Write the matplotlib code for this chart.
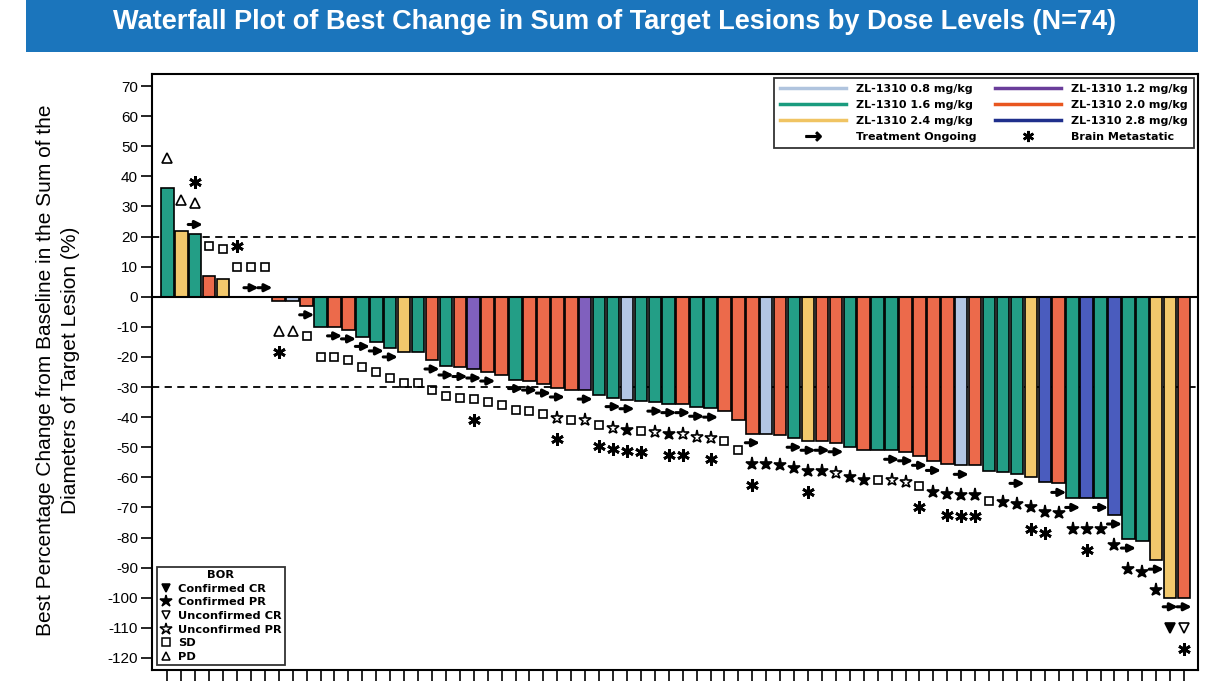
import matplotlib
matplotlib.use('Agg')
import matplotlib.pyplot as plt
from matplotlib.lines import Line2D
from matplotlib.patches import Rectangle
import numpy as np

plt.rcParams['axes.unicode_minus'] = False

# ---- data ----
values = [36, 22, 21, 7, 6, 0, 0, 0, -1.5, -1.5,
          -3, -10, -10, -11, -13.5, -15, -17, -18.5, -18.5, -21,
          -23, -23.5, -24, -25, -26, -27.5, -28, -29, -30.3, -31,
          -31, -32.5, -33.5, -34.2, -34.5, -35, -35.5, -35.5, -36.7, -37,
          -38, -41, -45.5, -45.5, -46, -47, -48, -48, -48.5, -50,
          -51, -51, -51, -51.5, -53, -54.7, -55.5, -56, -56, -58,
          -58.3, -59, -60, -61.5, -62, -67, -67, -67, -72.5, -80.5,
          -81.3, -87.5, -100, -100]
dose = ['1.6', '2.4', '1.6', '2.0', '2.4', '2.0', '2.0', '2.0', '2.0', '0.8',
        '2.0', '1.6', '2.0', '2.0', '1.6', '1.6', '1.6', '2.4', '1.6', '2.0',
        '1.6', '2.0', '1.2', '2.0', '2.0', '1.6', '2.0', '2.0', '2.0', '2.0',
        '1.2', '1.6', '1.6', '0.8', '1.6', '1.6', '1.6', '2.0', '1.6', '1.6',
        '2.0', '2.0', '2.0', '0.8', '2.0', '1.6', '2.4', '2.0', '2.0', '1.6',
        '2.0', '1.6', '1.6', '2.0', '2.0', '2.0', '2.0', '0.8', '2.0', '1.6',
        '1.6', '1.6', '2.4', '2.8', '2.0', '1.6', '2.8', '1.6', '2.8', '1.6',
        '1.6', '2.4', '2.4', '2.0']
bor = ['PD', 'PD', 'PD', 'SD', 'SD', 'SD', 'SD', 'SD', 'PD', 'PD',
       'SD', 'SD', 'SD', 'SD', 'SD', 'SD', 'SD', 'SD', 'SD', 'SD',
       'SD', 'SD', 'SD', 'SD', 'SD', 'SD', 'SD', 'SD', 'uPR', 'SD',
       'uPR', 'SD', 'uPR', 'PR', 'SD', 'uPR', 'PR', 'uPR', 'uPR', 'uPR',
       'SD', 'SD', 'PR', 'PR', 'PR', 'PR', 'PR', 'PR', 'uPR', 'PR',
       'PR', 'SD', 'uPR', 'uPR', 'SD', 'PR', 'PR', 'PR', 'PR', 'SD',
       'PR', 'PR', 'PR', 'PR', 'PR', 'PR', 'PR', 'PR', 'PR', 'PR',
       'PR', 'PR', 'CR', 'uCR']
ongoing = [0, 0, 1, 0, 0, 0, 1, 1, 0, 0,
           1, 0, 1, 1, 1, 1, 1, 0, 0, 1,
           1, 1, 1, 1, 0, 1, 1, 1, 1, 0,
           1, 0, 1, 1, 0, 1, 1, 1, 1, 1,
           0, 0, 1, 0, 0, 1, 1, 1, 1, 0,
           0, 0, 1, 1, 1, 1, 0, 1, 0, 0,
           0, 1, 0, 0, 1, 1, 0, 1, 1, 1,
           0, 1, 1, 1]
brain = [0, 0, 1, 0, 0, 1, 0, 0, 1, 0,
         0, 0, 0, 0, 0, 0, 0, 0, 0, 0,
         0, 0, 1, 0, 0, 0, 0, 0, 1, 0,
         0, 1, 1, 1, 1, 0, 1, 1, 0, 1,
         0, 0, 1, 0, 0, 0, 1, 0, 0, 0,
         0, 0, 0, 0, 1, 0, 1, 1, 1, 0,
         0, 0, 1, 1, 0, 0, 1, 0, 0, 0,
         0, 0, 0, 1]

dose_labels = ['0.8', '1.2', '1.6', '2.0', '2.4', '2.8']
bar_colors = {'0.8': '#B3C6E4', '1.2': '#8060BE', '1.6': '#239E86',
              '2.0': '#EC6A4B', '2.4': '#F2C86C', '2.8': '#4A5CBE'}
line_colors = {'0.8': '#B0C4DE', '1.2': '#6A3D9A', '1.6': '#1A9B7E',
               '2.0': '#E8561F', '2.4': '#F0C463', '2.8': '#1F2F8C'}
bor_style = {'CR': ('v', 'black'), 'PR': ('*', 'black'),
             'uCR': ('v', 'none'), 'uPR': ('*', 'none'),
             'SD': ('s', 'none'), 'PD': ('^', 'none')}
bor_names = [('CR', 'Confirmed CR'), ('PR', 'Confirmed PR'),
             ('uCR', 'Unconfirmed CR'), ('uPR', 'Unconfirmed PR'),
             ('SD', 'SD'), ('PD', 'PD')]
bor_size = {'v': 6.5, '^': 6.5, 's': 6.0, '*': 9.5}

fig = plt.figure(figsize=(12.16, 6.84), dpi=100)

# title band
fig.patches.append(Rectangle((26 / 1216, 1 - 52 / 684), (1198 - 26) / 1216, 52 / 684,
                             transform=fig.transFigure, facecolor='#1B75BC',
                             edgecolor='none', zorder=0))
fig.text(0.505, 1 - 22 / 684,
         'Waterfall Plot of Best Change in Sum of Target Lesions by Dose Levels (N=74)',
         ha='center', va='center', color='white', fontsize=19.5, fontweight='bold',
         family='Liberation Sans')

ax = fig.add_axes([152 / 1216, 14 / 684, (1198 - 152) / 1216, (670 - 74) / 684])
x = np.arange(len(values))
ax.bar(x, values, width=0.9, color=[bar_colors[d] for d in dose],
       edgecolor='black', linewidth=1.2, zorder=3)
ax.axhline(0, color='black', lw=1.5, zorder=4)
ax.axhline(20, color='black', lw=1.3, ls=(0, (4, 3)), zorder=2)
ax.axhline(-30, color='black', lw=1.3, ls=(0, (4, 3)), zorder=2)

for i, v in enumerate(values):
    s = 1 if v >= 0 else -1
    if ongoing[i]:
        ya = v + s * 3
        ax.annotate('', xy=(i + 0.55, ya), xytext=(i - 0.5, ya),
                    arrowprops=dict(arrowstyle='-|>', color='black', lw=2.2,
                                    mutation_scale=11, shrinkA=0, shrinkB=0),
                    zorder=5)
    m, fc = bor_style[bor[i]]
    ax.plot(i, v + s * 10, marker=m, ms=bor_size[m], mfc=fc, mec='black',
            mew=1.2, ls='none', zorder=5)
    if brain[i]:
        ax.plot(i, v + s * 17, marker=(6, 2, 0), ms=9, mec='black', mew=2.0,
                ls='none', zorder=5)

ax.set_xlim(-1.1, 74.0)
ax.set_ylim(-124, 74)
ax.set_xticks(x)
ax.set_xticklabels([])
ax.tick_params(axis='x', length=8, width=1.2, direction='out')
yt = np.arange(-120, 71, 10)
ax.set_yticks(yt)
ax.set_yticklabels([str(t) for t in yt], family='Liberation Sans', fontsize=11)
ax.tick_params(axis='y', length=8, width=1.2, direction='out', pad=2)
for sp in ax.spines.values():
    sp.set_linewidth(1.5)

fig.text(58 / 1216, 1 - 370 / 684,
         'Best Percentage Change from Baseline in the Sum of the\nDiameters of Target Lesion (%)',
         rotation=90, ha='center', va='center', multialignment='center',
         fontsize=15, family='Liberation Sans', linespacing=1.35)

# dose legend
handles = []
order = ['0.8', '1.6', '2.4', None, '1.2', '2.0', '2.8', None]
for k, d in enumerate(order):
    if d is not None:
        handles.append(Line2D([], [], color=line_colors[d], lw=2.5, label=f'ZL-1310 {d} mg/kg'))
    elif k == 3:
        handles.append(Line2D([], [], ls='none', marker=r'$\rightarrow$', ms=11,
                              color='black', label='Treatment Ongoing'))
    else:
        handles.append(Line2D([], [], ls='none', marker=(6, 2, 0), ms=8, mec='black',
                              mew=1.8, label='Brain Metastatic'))
leg1 = ax.legend(handles=handles, ncol=2, loc='upper right',
                 prop=dict(size=8, weight='bold'),
                 handlelength=6.0, frameon=True, fancybox=False, edgecolor='black',
                 borderaxespad=0.4, labelspacing=0.55, columnspacing=1.6,
                 handletextpad=0.9, borderpad=0.5)
leg1.get_frame().set_linewidth(1.3)
ax.add_artist(leg1)

bh = []
for key, name in bor_names:
    m, fc = bor_style[key]
    bh.append(Line2D([], [], ls='none', marker=m, ms=bor_size[m] * 0.95, mfc=fc,
                     mec='black', mew=1.1, label=name))
leg2 = ax.legend(handles=bh, loc='lower left', title='BOR',
                 prop=dict(size=8.2, weight='bold'),
                 title_fontproperties=dict(size=8.2, weight='bold'),
                 frameon=True, fancybox=False, edgecolor='black',
                 borderaxespad=0.4, labelspacing=0.32, handlelength=1.0,
                 handletextpad=0.6, borderpad=0.3)
leg2.get_frame().set_linewidth(1.3)

fig.savefig('out.png', dpi=100)
